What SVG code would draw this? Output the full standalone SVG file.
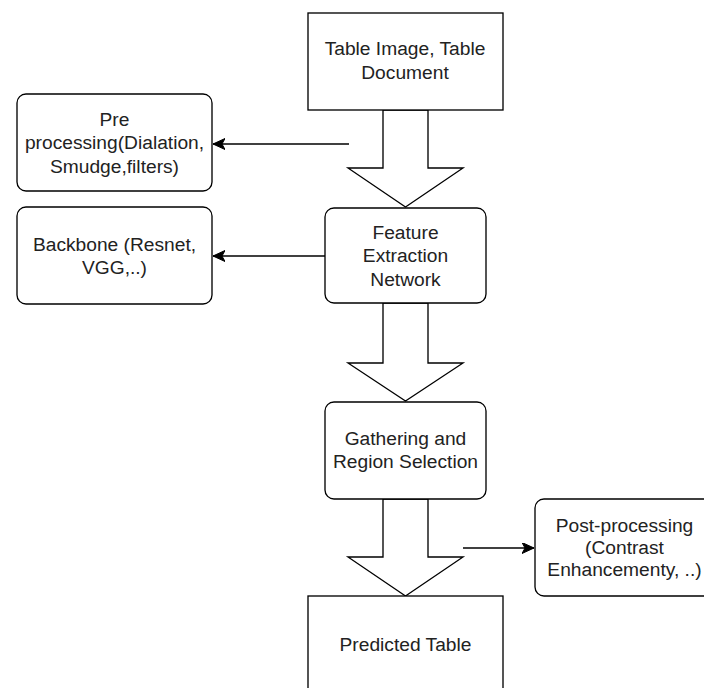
<svg xmlns="http://www.w3.org/2000/svg" width="704" height="688" viewBox="0 0 704 688">
<style>
.box{fill:#fff;stroke:#000;stroke-width:1.33}
.blk{fill:#fff;stroke:#000;stroke-width:1.33;stroke-linejoin:miter}
.ln{fill:none;stroke:#000;stroke-width:1.33}
text{font-family:"Liberation Sans",Arial,sans-serif;font-size:19.2px;fill:#222;text-anchor:middle}
</style>
<defs>
<marker id="ah" markerUnits="userSpaceOnUse" markerWidth="14" markerHeight="12" refX="12" refY="5.5" orient="auto">
<path d="M0,0 L12,5.5 L0,11 L3,5.5 z" fill="#000" stroke="#000" stroke-width="1"/>
</marker>
</defs>
<rect width="704" height="688" fill="#fff"/>
<g id="connectors">
<polygon class="blk" points="383,110 428,110 428,168 463,168 405.5,207 348,168 383,168"/>
<polygon class="blk" points="383,303 428,303 428,363 463,363 405.5,401 348,363 383,363"/>
<polygon class="blk" points="383,499 428,499 428,557 463,557 405.5,596 348,557 383,557"/>
<line class="ln" x1="349" y1="144" x2="213" y2="144" marker-end="url(#ah)"/>
<line class="ln" x1="325" y1="256" x2="213" y2="256" marker-end="url(#ah)"/>
<line class="ln" x1="463" y1="548" x2="534" y2="548" marker-end="url(#ah)"/>
</g>
<g id="input">
<rect class="box" x="308" y="13" width="195" height="97"/>
<text x="405" y="55">Table Image, Table</text>
<text x="405" y="79">Document</text>
</g>
<g id="preprocessing">
<rect class="box" x="17" y="94" width="195" height="97" rx="9"/>
<text x="114.5" y="125.5">Pre</text>
<text x="114.5" y="149">processing(Dialation,</text>
<text x="114.5" y="172.5">Smudge,filters)</text>
</g>
<g id="backbone">
<rect class="box" x="17" y="207" width="195" height="97" rx="9"/>
<text x="114.5" y="250.5">Backbone (Resnet,</text>
<text x="114.5" y="274">VGG,..)</text>
</g>
<g id="feature">
<rect class="box" x="325" y="208" width="161" height="95" rx="9"/>
<text x="405.5" y="238.5">Feature</text>
<text x="405.5" y="262">Extraction</text>
<text x="405.5" y="285.5">Network</text>
</g>
<g id="gathering">
<rect class="box" x="325" y="402" width="161" height="97" rx="9"/>
<text x="405.5" y="444.5">Gathering and</text>
<text x="405.5" y="467.5">Region Selection</text>
</g>
<g id="postprocessing">
<rect class="box" x="535" y="499" width="178" height="97" rx="9"/>
<text x="624.5" y="531.5">Post-processing</text>
<text x="624.5" y="553.5">(Contrast</text>
<text x="624.5" y="576">Enhancementy, ..)</text>
</g>
<g id="output">
<rect class="box" x="308" y="596" width="195" height="110"/>
<text x="405.5" y="651">Predicted Table</text>
</g>
</svg>
